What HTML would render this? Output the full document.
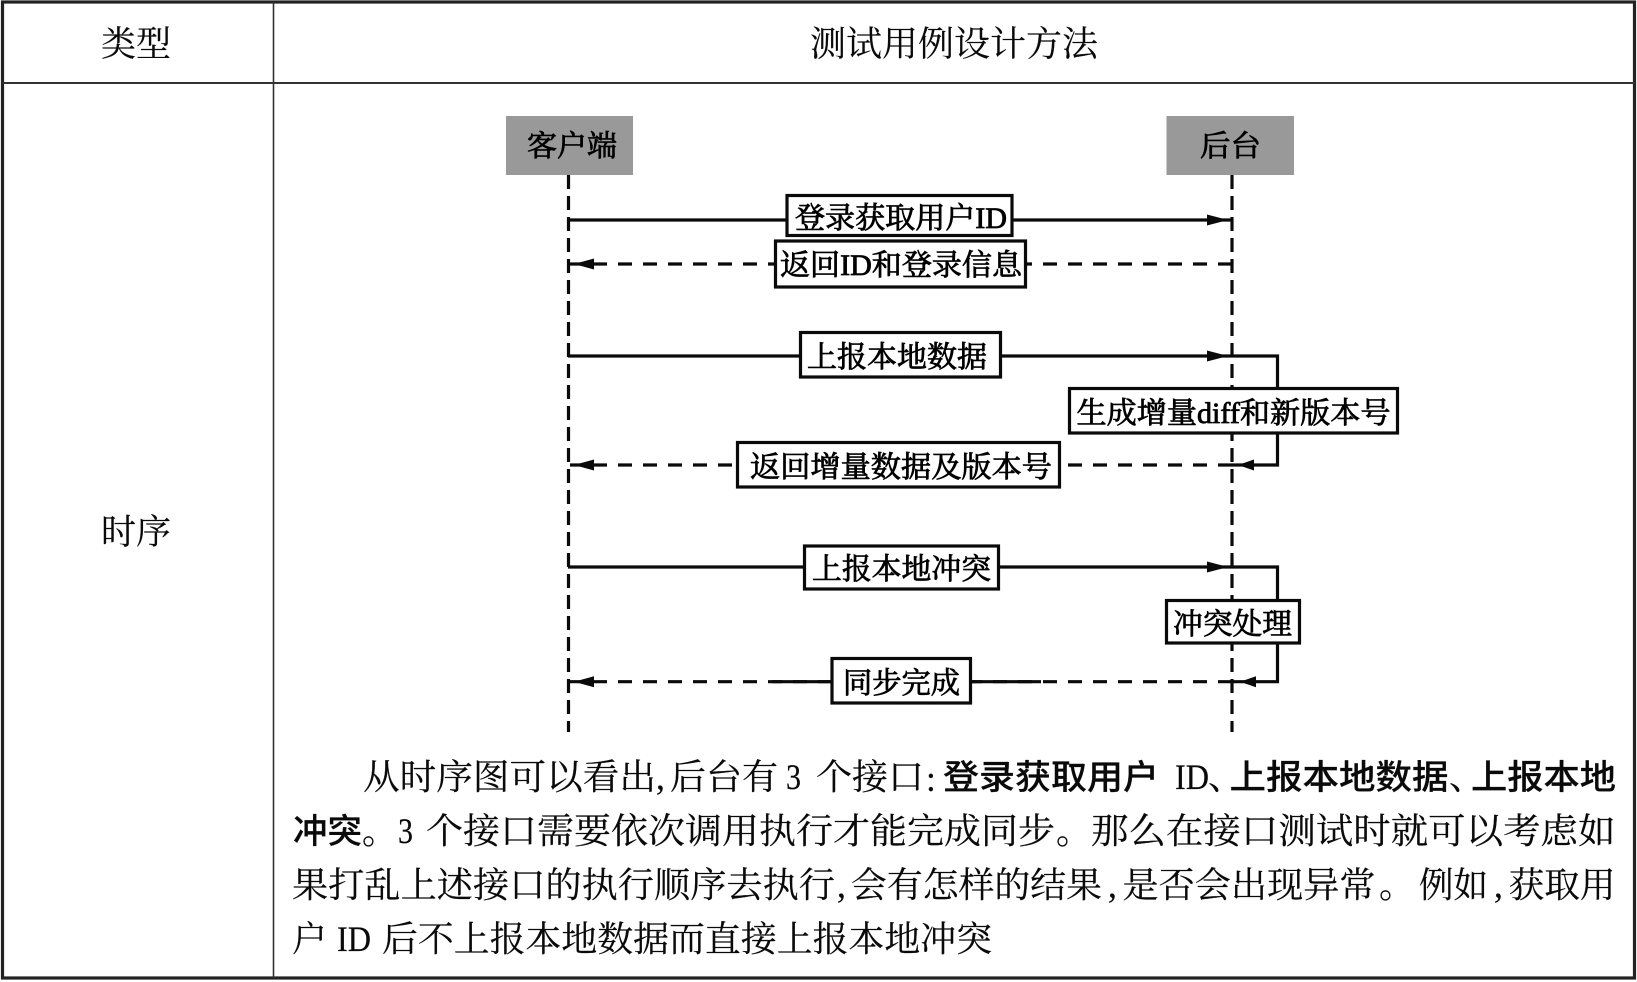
<!DOCTYPE html>
<html><head><meta charset="utf-8"><style>
html,body{margin:0;padding:0;background:#fff;width:1637px;height:982px;overflow:hidden}
svg{display:block}
text{fill:#0a0a0a;font-family:"Liberation Serif","Noto Serif CJK SC",serif}
.p{font-size:35.5px;stroke:#0a0a0a;stroke-width:.2}
.h{font-size:35px;stroke:#0a0a0a;stroke-width:.15}
.b{font-family:"Liberation Sans","Noto Sans CJK SC",sans-serif;font-weight:500;font-size:34px;stroke:#0a0a0a;stroke-width:.2}
.l{font-size:29.5px;stroke:#000;stroke-width:.8;fill:#000}
.ln{stroke:#0a0a0a;stroke-width:3.2;fill:none}
.d{stroke-dasharray:14 11}
.v{stroke-dasharray:14 7}
.box{fill:#fff;stroke:#0a0a0a;stroke-width:3.2}
</style></head><body>
<svg width="1637" height="982" viewBox="0 0 1637 982" xmlns="http://www.w3.org/2000/svg">
<rect x="2.5" y="2" width="1632" height="976" fill="#fff" stroke="#222" stroke-width="3.2"/>
<line x1="2" y1="83" x2="1635" y2="83" stroke="#333" stroke-width="2"/>
<line x1="273.5" y1="2" x2="273.5" y2="978" stroke="#333" stroke-width="1.6"/>

<text class="h" x="101" y="56" textLength="70" lengthAdjust="spacingAndGlyphs">类型</text>
<text class="h" x="810" y="56" textLength="288" lengthAdjust="spacingAndGlyphs">测试用例设计方法</text>
<text class="h" x="101" y="544" textLength="70" lengthAdjust="spacingAndGlyphs">时序</text>

<rect x="506" y="116" width="127" height="59" fill="#999"/>
<rect x="1166.5" y="116" width="127.5" height="59" fill="#999"/>
<text class="l" x="527" y="156" textLength="90" lengthAdjust="spacingAndGlyphs">客户端</text>
<text class="l" x="1200" y="156" textLength="61" lengthAdjust="spacingAndGlyphs">后台</text>

<line class="ln v" x1="568.5" y1="175" x2="568.5" y2="732"/>
<line class="ln v" x1="1232" y1="175" x2="1232" y2="732"/>

<line class="ln" x1="568" y1="220" x2="1232" y2="220"/>
<line class="ln d" x1="1232" y1="264" x2="570" y2="264"/>
<path class="ln" d="M568 356H1277.5V465H1232"/>
<line class="ln d" x1="1232" y1="465" x2="570" y2="465"/>
<path class="ln" d="M568 567H1277.5V681.7H1232"/>
<line class="ln d" x1="1232" y1="681.7" x2="570" y2="681.7"/>
<line class="ln" x1="772" y1="681.7" x2="975" y2="681.7"/>
<line class="ln" x1="965" y1="681.7" x2="1041" y2="681.7"/>

<g fill="#0a0a0a">
<path d="M1207 214.5L1228 220L1207 225.5Z"/>
<path d="M1207 350.5L1228 356L1207 361.5Z"/>
<path d="M1207 561.5L1228 567L1207 572.5Z"/>
<path d="M574 264L594 258.5L594 269.5Z"/>
<path d="M574 465L594 459.5L594 470.5Z"/>
<path d="M574 681.7L594 676.2L594 687.2Z"/>
<path d="M1238 465L1254 459.5L1254 470.5Z"/>
<path d="M1240 681.7L1256 676.2L1256 687.2Z"/>
</g>

<rect class="box" x="787" y="195.5" width="225" height="40"/>
<rect class="box" x="775.5" y="241" width="250" height="46"/>
<rect class="box" x="800.5" y="332.5" width="200" height="44.5"/>
<rect class="box" x="1069.5" y="388.5" width="328" height="44.5"/>
<rect class="box" x="737.5" y="442.5" width="322" height="44.5"/>
<rect class="box" x="804.5" y="546" width="194" height="43"/>
<rect class="box" x="1166.5" y="600.5" width="133" height="42.5"/>
<rect class="box" x="832" y="658.5" width="138.5" height="44.5"/>

<text class="l" x="795" y="228" textLength="212" lengthAdjust="spacingAndGlyphs">登录获取用户ID</text>
<text class="l" x="780" y="275" textLength="242" lengthAdjust="spacingAndGlyphs">返回ID和登录信息</text>
<text class="l" x="807" y="367" textLength="180" lengthAdjust="spacingAndGlyphs">上报本地数据</text>
<text class="l" x="1076.5" y="423" textLength="314" lengthAdjust="spacingAndGlyphs">生成增量diff和新版本号</text>
<text class="l" x="750" y="477" textLength="302" lengthAdjust="spacingAndGlyphs">返回增量数据及版本号</text>
<text class="l" x="812" y="579" textLength="179" lengthAdjust="spacingAndGlyphs">上报本地冲突</text>
<text class="l" x="1173" y="634" textLength="119" lengthAdjust="spacingAndGlyphs">冲突处理</text>
<text class="l" x="843" y="693" textLength="117" lengthAdjust="spacingAndGlyphs">同步完成</text>

<!-- line 1 -->
<text class="p" x="363" y="789" textLength="293" lengthAdjust="spacingAndGlyphs">从时序图可以看出</text>
<text class="p" x="656" y="789">,</text>
<text class="p" x="670" y="789" textLength="108" lengthAdjust="spacingAndGlyphs">后台有</text>
<text class="p" x="786" y="789" textLength="15" lengthAdjust="spacingAndGlyphs">3</text>
<text class="p" x="816" y="789" textLength="108" lengthAdjust="spacingAndGlyphs">个接口</text>
<text class="p" x="926" y="791">:</text>
<text class="b" x="943" y="789" textLength="216" lengthAdjust="spacingAndGlyphs">登录获取用户</text>
<text class="p" x="1175" y="789" textLength="34" lengthAdjust="spacingAndGlyphs">ID</text>
<text class="p" x="1208" y="789">、</text>
<text class="b" x="1229.5" y="789" textLength="219" lengthAdjust="spacingAndGlyphs">上报本地数据</text>
<text class="p" x="1449" y="789">、</text>
<text class="b" x="1471" y="789" textLength="145" lengthAdjust="spacingAndGlyphs">上报本地</text>
<!-- line 2 -->
<text class="b" x="293" y="843" textLength="69" lengthAdjust="spacingAndGlyphs">冲突</text>
<text class="p" x="362" y="843">。</text>
<text class="p" x="398" y="843" textLength="15" lengthAdjust="spacingAndGlyphs">3</text>
<text class="p" x="426" y="843" textLength="629" lengthAdjust="spacingAndGlyphs">个接口需要依次调用执行才能完成同步</text>
<text class="p" x="1056" y="843">。</text>
<text class="p" x="1091" y="843" textLength="524.5" lengthAdjust="spacingAndGlyphs">那么在接口测试时就可以考虑如</text>
<!-- line 3 -->
<text class="p" x="292" y="897" textLength="543" lengthAdjust="spacingAndGlyphs">果打乱上述接口的执行顺序去执行</text>
<text class="p" x="837" y="897">,</text>
<text class="p" x="851" y="897" textLength="251" lengthAdjust="spacingAndGlyphs">会有怎样的结果</text>
<text class="p" x="1108" y="897">,</text>
<text class="p" x="1122.5" y="897" textLength="253" lengthAdjust="spacingAndGlyphs">是否会出现异常</text>
<text class="p" x="1379" y="897">。</text>
<text class="p" x="1419" y="897" textLength="69" lengthAdjust="spacingAndGlyphs">例如</text>
<text class="p" x="1494" y="897">,</text>
<text class="p" x="1508.6" y="897" textLength="107" lengthAdjust="spacingAndGlyphs">获取用</text>
<!-- line 4 -->
<text class="p" x="292" y="951" textLength="35" lengthAdjust="spacingAndGlyphs">户</text>
<text class="p" x="337" y="951" textLength="34" lengthAdjust="spacingAndGlyphs">ID</text>
<text class="p" x="382" y="951" textLength="610" lengthAdjust="spacingAndGlyphs">后不上报本地数据而直接上报本地冲突</text>
</svg>
</body></html>
